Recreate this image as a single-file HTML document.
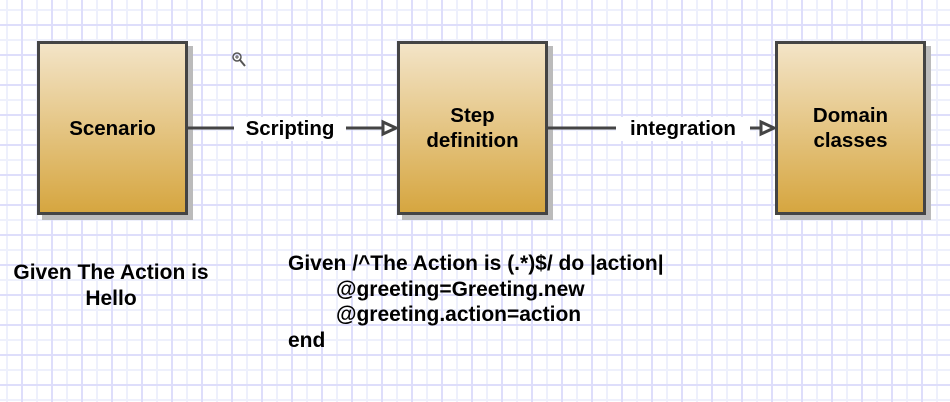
<!DOCTYPE html>
<html><head><style>
body{margin:0}
.c{position:relative;width:950px;height:402px;overflow:hidden;background-color:#fff;
background-image:
linear-gradient(90deg,#dedefb 2px,transparent 2px),
linear-gradient(#dedefb 2px,transparent 2px),
linear-gradient(90deg,#eef0fc 2px,transparent 2px),
linear-gradient(#eef0fc 2px,transparent 2px);
background-size:30px 30px,30px 30px,15px 15px,15px 15px;
background-position:21px 24px,21px 24px,6px 9px,6px 9px;
font-family:"Liberation Sans",sans-serif;font-weight:bold;color:#000}
.b{position:absolute;top:41px;width:145px;height:168px;border:3px solid #444;
background:linear-gradient(#f3e4c7,#d6a640);box-shadow:5px 5px 0 #bbb;
display:flex;align-items:center;justify-content:center;text-align:center;font-size:20.5px;line-height:25px}
.l{position:absolute;background:#fff;font-size:20.5px;top:117px;height:24px;line-height:24px;text-align:center}
.t{position:absolute;font-size:21px;line-height:25.5px}
svg{z-index:2}
</style></head><body><div class="c">
<div class="b" style="left:37px">Scenario</div>
<div class="b" style="left:397px">Step<br>definition</div>
<div class="b" style="left:775px">Domain<br>classes</div>
<svg width="950" height="402" style="position:absolute;left:0;top:0">
<line x1="188" y1="128" x2="384" y2="128" stroke="#444" stroke-width="3"/>
<polygon points="383,122 396,128 383,134" fill="#fff" stroke="#444" stroke-width="3"/>
<line x1="548" y1="128" x2="762" y2="128" stroke="#444" stroke-width="3"/>
<polygon points="761,122 774,128 761,134" fill="#fff" stroke="#444" stroke-width="3"/>
<circle cx="237" cy="57" r="4" fill="none" stroke="#555" stroke-width="1.5"/>
<line x1="240" y1="60" x2="245" y2="66" stroke="#555" stroke-width="2"/>
<line x1="235" y1="57" x2="239" y2="57" stroke="#555"/><line x1="237" y1="55" x2="237" y2="59" stroke="#555"/>
</svg>
<div class="l" style="left:234px;width:112px;z-index:3">Scripting</div>
<div class="l" style="left:616px;width:134px;z-index:3">integration</div>
<div class="t" style="left:0;width:222px;top:260px;text-align:center">Given The Action is<br>Hello</div>
<div class="t" style="left:288px;top:251px">Given /^The Action is (.*)$/ do |action|<br><span style="padding-left:48px">@greeting=Greeting.new</span><br><span style="padding-left:48px">@greeting.action=action</span><br>end</div>
</div></body></html>
